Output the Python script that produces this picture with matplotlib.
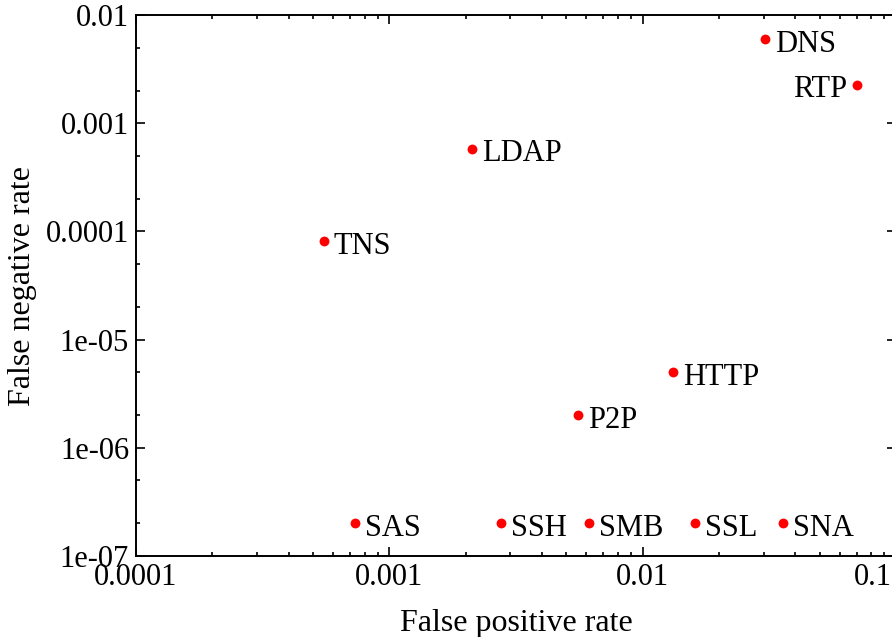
import matplotlib
matplotlib.use("Agg")
import matplotlib.pyplot as plt
import matplotlib.transforms as mtransforms
from matplotlib.ticker import FixedLocator, FixedFormatter, LogLocator, NullFormatter

plt.rcParams['font.family'] = ['Liberation Serif', 'DejaVu Serif']

# data
protocols = ["DNS", "RTP", "LDAP", "TNS", "HTTP", "P2P", "SAS", "SSH", "SMB", "SSL", "SNA"]
fp_rate = [0.0304, 0.0701, 0.00212, 0.000552, 0.0132, 0.00556, 0.000732, 0.00276, 0.00614, 0.0161, 0.0358]
fn_rate = [0.006, 0.00226, 0.000578, 8.15e-5, 5.0e-6, 2.0e-6, 2e-7, 2e-7, 2e-7, 2e-7, 2e-7]

x_ticks = [1e-4, 1e-3, 1e-2, 1e-1]
x_ticklabels = ["0.0001", "0.001", "0.01", "0.1"]
y_ticks = [1e-7, 1e-6, 1e-5, 1e-4, 1e-3, 1e-2]
y_ticklabels = ["1e-07", "1e-06", "1e-05", "0.0001", "0.001", "0.01"]


def main():
    fig = plt.figure(figsize=(8.92, 6.37), dpi=100)
    # right edge of the plot box sits just past the image border, as in the reference
    ax = fig.add_axes([136 / 892, 1 - 556 / 637, 760 / 892, 541 / 637])

    ax.scatter(fp_rate, fn_rate, s=50, color="#ff0000", zorder=3, linewidths=0)

    for name, x, y in zip(protocols, fp_rate, fn_rate):
        if name == "RTP":
            ax.annotate(name, (x, y), xytext=(-7, -9), textcoords="offset points",
                        ha="right", va="baseline", fontsize=22)
        else:
            ax.annotate(name, (x, y), xytext=(7, -9), textcoords="offset points",
                        ha="left", va="baseline", fontsize=22)

    ax.set_xscale("log")
    ax.set_yscale("log")
    ax.set_xlim(1e-4, 1e-1)
    ax.set_ylim(1e-7, 1e-2)

    ax.xaxis.set_major_locator(FixedLocator(x_ticks))
    ax.xaxis.set_major_formatter(FixedFormatter(x_ticklabels))
    ax.xaxis.set_minor_locator(LogLocator(base=10, subs=range(2, 10)))
    ax.xaxis.set_minor_formatter(NullFormatter())
    ax.yaxis.set_major_locator(FixedLocator(y_ticks))
    ax.yaxis.set_major_formatter(FixedFormatter(y_ticklabels))
    ax.yaxis.set_minor_locator(LogLocator(base=10, subs=[2, 5]))
    ax.yaxis.set_minor_formatter(NullFormatter())

    ax.tick_params(which="both", direction="in", top=True, right=True, labelsize=22, width=1.2)
    ax.tick_params(which="major", length=6.5, pad=5)
    ax.tick_params(which="minor", length=3)
    for s in ax.spines.values():
        s.set_linewidth(1.4)

    # last x label is pulled inside the image
    fig.canvas.draw()
    last = ax.get_xticklabels()[-1]
    last.set_ha("right")
    last.set_transform(last.get_transform() + mtransforms.ScaledTranslation(-4 / 100, 0, fig.dpi_scale_trans))

    ax.set_xlabel("False positive rate", fontsize=23, labelpad=12)
    ax.set_ylabel("False negative rate", fontsize=23, labelpad=6)

    fig.savefig("out.png", dpi=100)


if __name__ == '__main__':
    main()
